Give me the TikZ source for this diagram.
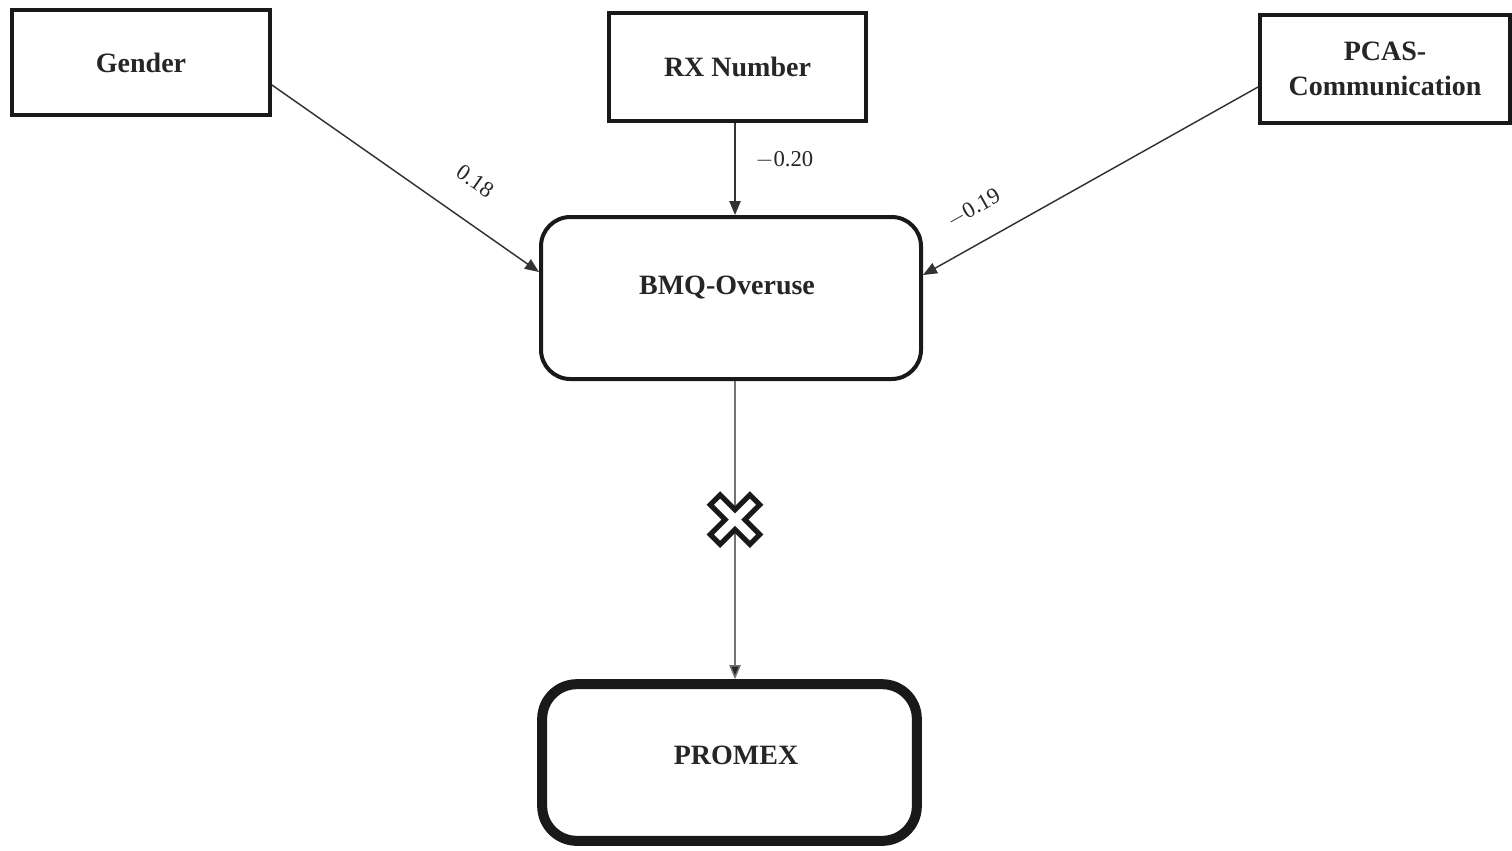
\documentclass[tikz,border=0pt]{standalone}
\usepackage{fontspec}
\setmainfont{Liberation Serif}
\usetikzlibrary{arrows.meta}
\begin{document}
\begin{tikzpicture}[x=0.75pt,y=-0.75pt,
  every node/.style={text=black!85},
  sqbox/.style={draw=black!90,line width=3pt,fill=white,font=\bfseries\fontsize{21}{24}\selectfont,align=center,inner sep=0pt},
  rbox/.style={draw=black!90,fill=white,rounded corners=22pt,inner sep=0pt},
  boxtext/.style={font=\bfseries\fontsize{21}{24}\selectfont},
  effect/.style={draw=black!80,line width=1.1pt,-{Triangle[length=10.5pt,width=8.5pt]}},
  coef/.style={font=\fontsize{17}{20}\selectfont,inner sep=1pt}]
\useasboundingbox (0,0) rectangle (1512,850);

% predictors
\node[sqbox,minimum width=193.5pt,minimum height=78.75pt] (gender) at (141,62.5) {Gender};
\node[sqbox,minimum width=192.75pt,minimum height=81pt] (rx) at (737.5,67) {RX Number};
\node[sqbox,minimum width=187.5pt,minimum height=81pt] (pcas) at (1385,69) {PCAS-\\[2pt]Communication};

% mediator and outcome
\node[rbox,line width=3pt,minimum width=285pt,minimum height=121.5pt] (bmq) at (731,298) {};
\node[boxtext] (bmqtext) at (727,287) {BMQ-Overuse};
\node[rbox,line width=7.5pt,rounded corners=26pt,minimum width=281pt,minimum height=117.5pt] (promex) at (729.5,762.5) {};
\node[boxtext] (promextext) at (736,755) {PROMEX};

% paths with coefficients
\draw[effect] ([yshift=-16.9pt]gender.east) -- ([yshift=19.5pt]bmq.west)
  node[coef,pos=0.68,sloped,above=21pt] {0.18};
\draw[effect] (rx.south -| 735,0) -- (bmq.north -| 735,0)
  node[coef,pos=0.4,right=14pt] {$-$0.20};
\draw[effect] ([yshift=-13.5pt]pcas.west) -- ([yshift=17.25pt]bmq.east)
  node[coef,pos=0.8,sloped,above=17pt] {$-$0.19};

% non-significant path, crossed out
\draw[draw=black!55,line width=1.1pt,-{Triangle[length=10.5pt,width=8.5pt,fill=black!85]}] (bmq.south -| 735,0) -- (promex.north -| 735,0)
  coordinate[pos=0.465] (cross);
\draw[line width=3.9pt,draw=black!90,fill=white,line join=miter,rotate around={45:(cross)}]
  ([shift={(7,28)}]cross) -- ++(0,-21) -- ++(21,0) -- ++(0,-14) -- ++(-21,0) -- ++(0,-21)
  -- ++(-14,0) -- ++(0,21) -- ++(-21,0) -- ++(0,14) -- ++(21,0) -- ++(0,21) -- cycle;
\end{tikzpicture}
\end{document}
